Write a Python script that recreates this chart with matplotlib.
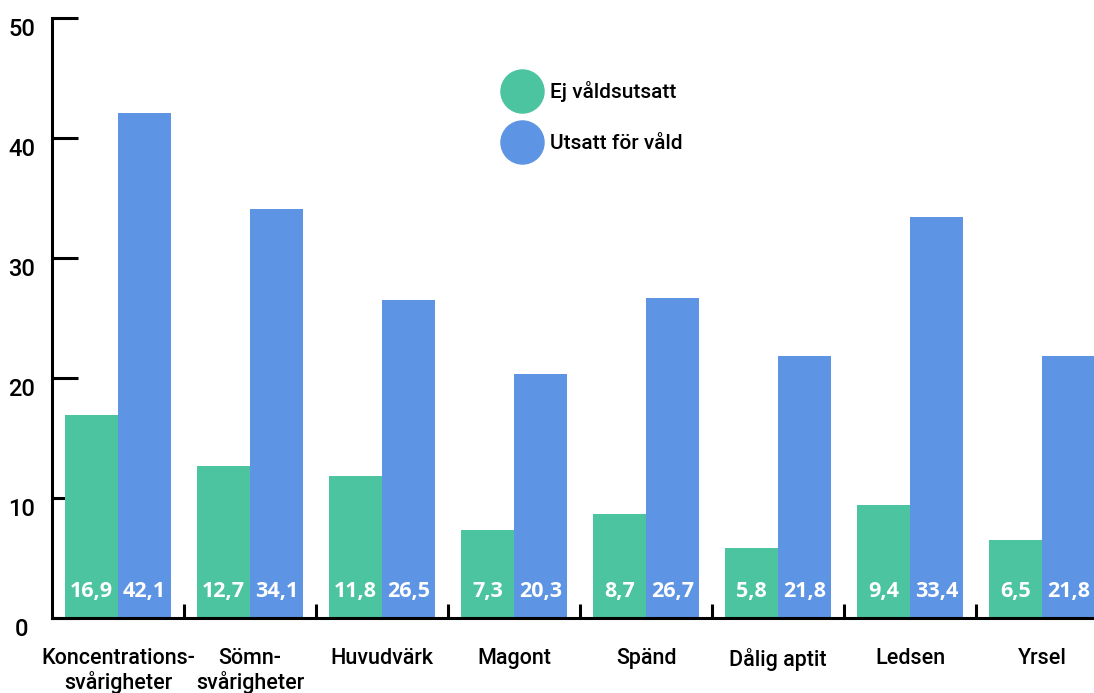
import matplotlib
matplotlib.use("Agg")
import matplotlib.pyplot as plt
from matplotlib.lines import Line2D
import matplotlib.transforms as mtransforms
import numpy as np

categories = ["Koncentrations-\nsvårigheter", "Sömn-\nsvårigheter", "Huvudvärk", "Magont",
              "Spänd", "Dålig aptit", "Ledsen", "Yrsel"]
ej_valdsutsatt = [16.9, 12.7, 11.8, 7.3, 8.7, 5.8, 9.4, 6.5]
utsatt_for_vald = [42.1, 34.1, 26.5, 20.3, 26.7, 21.8, 33.4, 21.8]
series_labels = ["Ej våldsutsatt", "Utsatt för våld"]
yticks = [0, 10, 20, 30, 40, 50]

GREEN = "#4cc49f"
BLUE = "#5e94e4"

plt.rcParams['font.family'] = ['Roboto', 'DejaVu Sans']

W, H = 1094, 693
fig = plt.figure(figsize=(W / 100, H / 100), dpi=100)
ax = fig.add_axes([52 / W, 1 - 618 / H, 1056 / W, 600 / H])

x = np.arange(len(categories))
bw = 0.4015
ax.bar(x - bw / 2, ej_valdsutsatt, width=bw, color=GREEN, zorder=2)
ax.bar(x + bw / 2, utsatt_for_vald, width=bw, color=BLUE, zorder=2)

ax.set_xlim(-0.5, len(categories) - 0.5)
ax.set_ylim(0, 50)

for s in ["top", "right"]:
    ax.spines[s].set_visible(False)
for s in ["left", "bottom"]:
    ax.spines[s].set_linewidth(2.2)
    ax.spines[s].set_color("black")

# y ticks: inward, labels below tick level
ax.set_yticks(yticks)
ax.set_yticklabels([])
ax.tick_params(axis="y", direction="in", length=19, width=2.2, color="black")
for v in yticks:
    ax.text(-0.5, v, str(v), transform=ax.transData + mtransforms.ScaledTranslation(-30 / 100, -12 / 100, fig.dpi_scale_trans),
            ha="center", va="center", fontsize=17, color="black", fontweight=500)

# x ticks at group boundaries, inward
ax.set_xticks(x[:-1] + 0.5)
ax.set_xticklabels([])
ax.tick_params(axis="x", direction="in", length=10, width=2.2, color="black")

# category labels
for i, c in enumerate(categories):
    ax.text(i, 0, c, transform=ax.transData + mtransforms.ScaledTranslation(0, -30 / 100, fig.dpi_scale_trans),
            ha="center", va="top", fontsize=15.5, color="black", linespacing=1.1, fontweight=500)

# value labels
off = mtransforms.ScaledTranslation(0, 26 / 100, fig.dpi_scale_trans)
for i in range(len(categories)):
    ax.text(i - bw / 2, 0, f"{ej_valdsutsatt[i]:.1f}".replace(".", ","), transform=ax.transData + off,
            ha="center", va="center", fontsize=15.5, color="white", fontweight="bold",
            family=["Open Sans", "DejaVu Sans"], zorder=3)
    ax.text(i + bw / 2, 0, f"{utsatt_for_vald[i]:.1f}".replace(".", ","), transform=ax.transData + off,
            ha="center", va="center", fontsize=15.5, color="white", fontweight="bold",
            family=["Open Sans", "DejaVu Sans"], zorder=3)

handles = [Line2D([], [], marker="o", linestyle="none", markersize=31, color=GREEN),
           Line2D([], [], marker="o", linestyle="none", markersize=31, color=BLUE)]
leg = ax.legend(handles, series_labels, loc="upper left", bbox_to_anchor=(501 / W, 1 - 81 / H),
                bbox_transform=fig.transFigure, frameon=False, fontsize=15, borderpad=0,
                handlelength=2.0, handletextpad=0.35, labelspacing=1.55, borderaxespad=0)
for t in leg.get_texts():
    t.set_fontweight(500)

fig.savefig("out.png", dpi=100)
